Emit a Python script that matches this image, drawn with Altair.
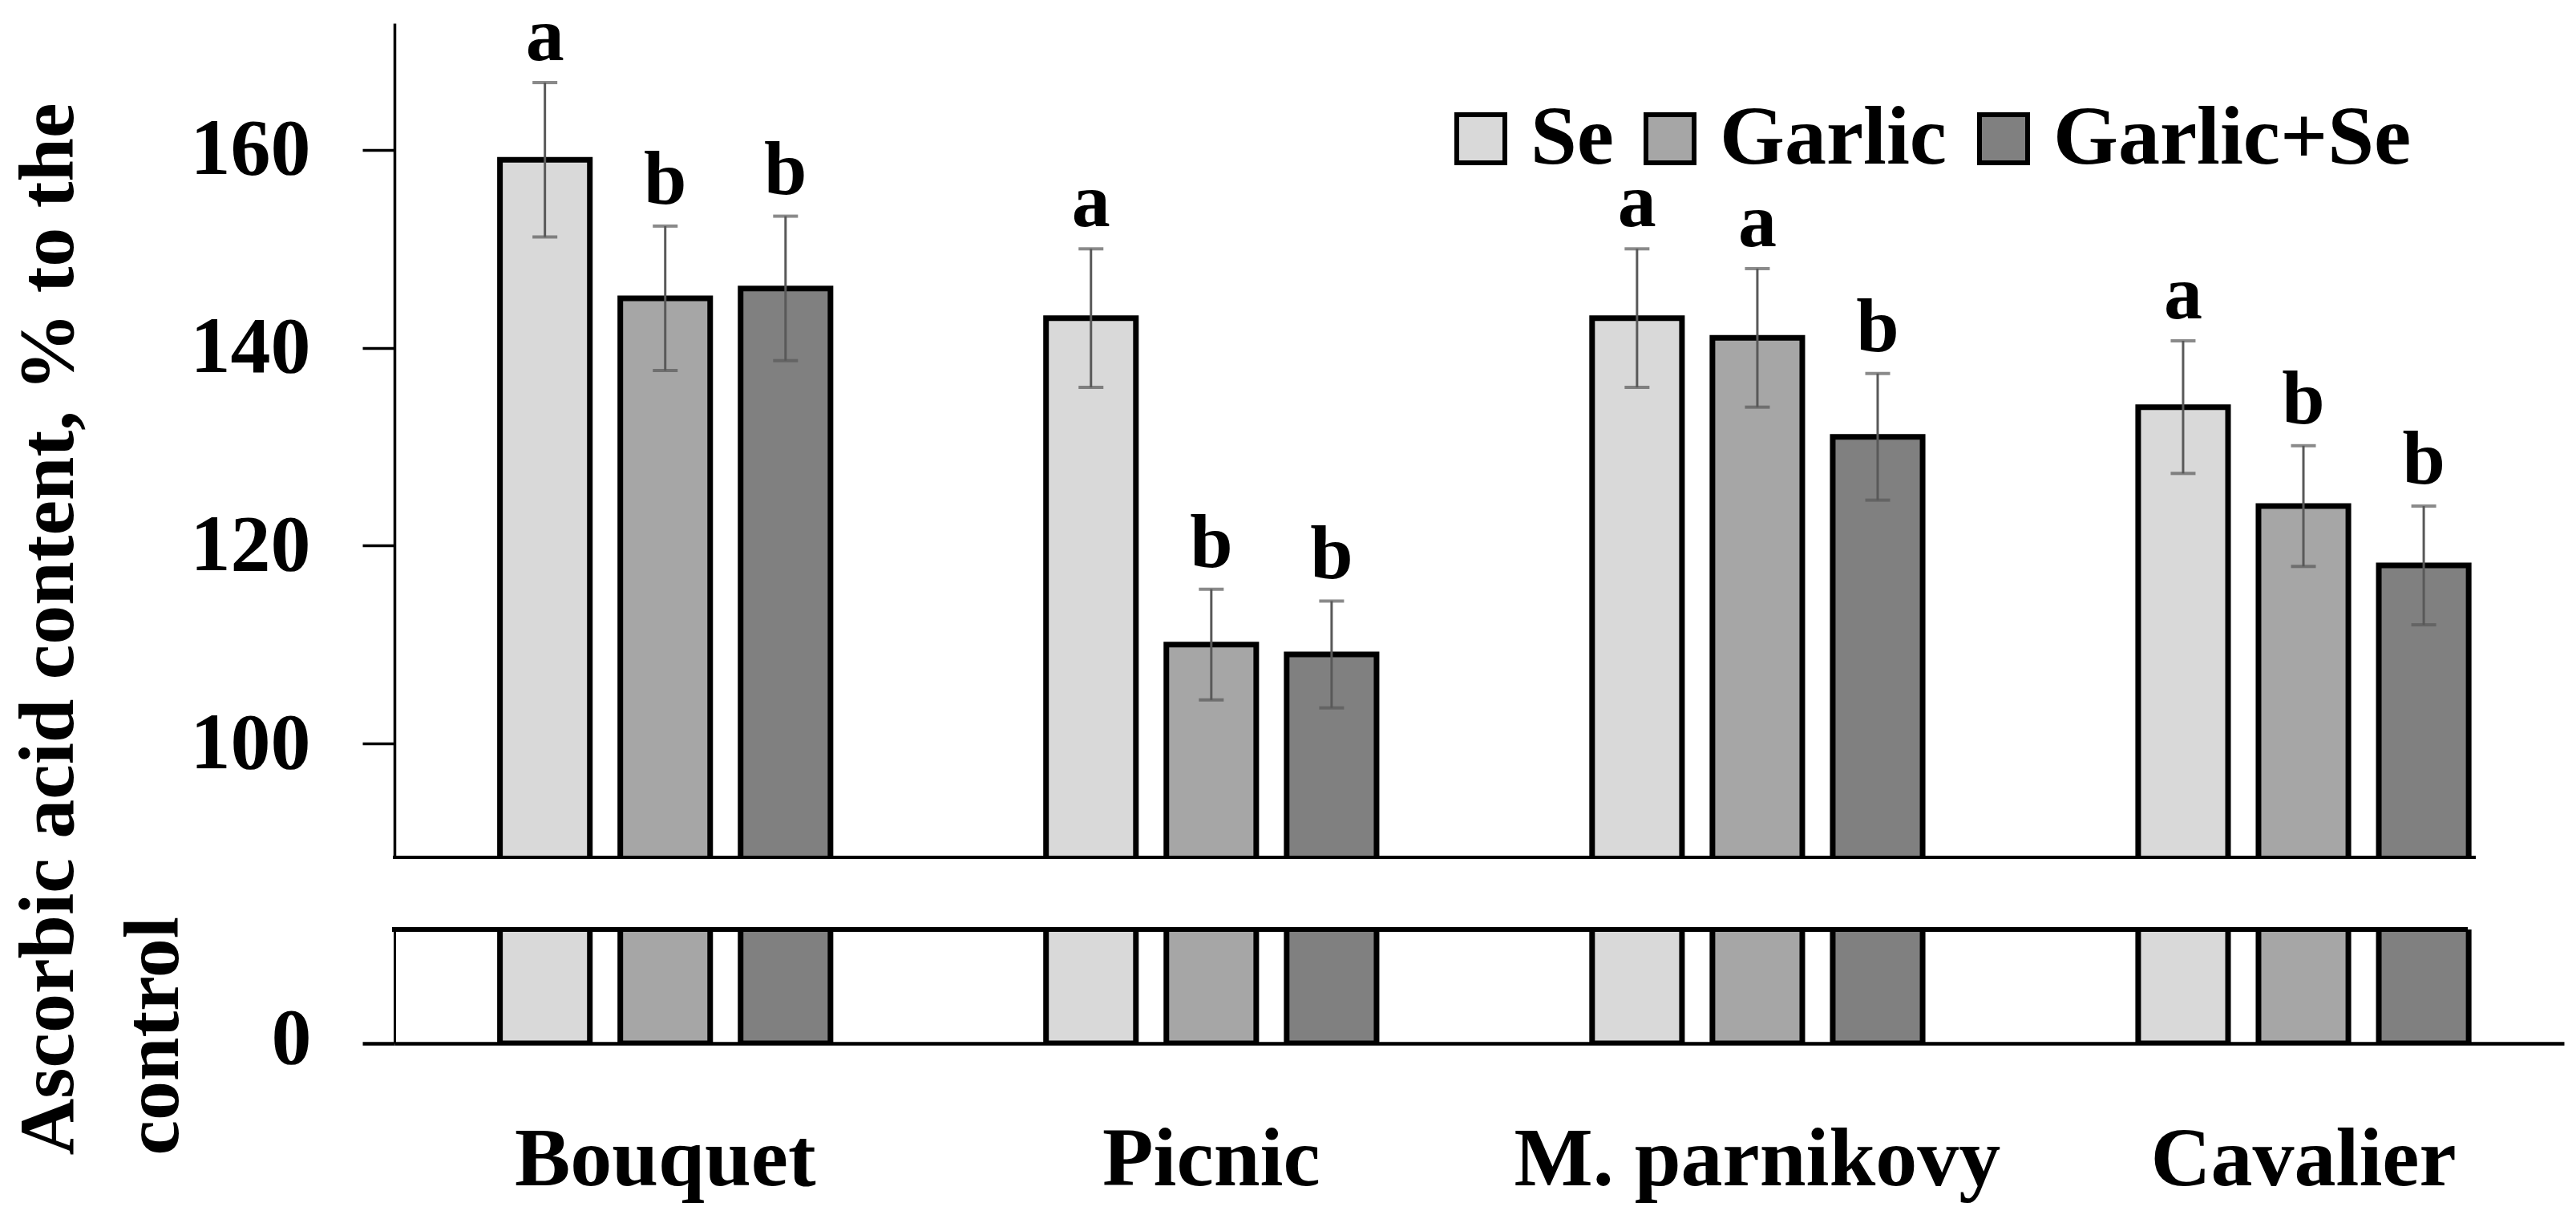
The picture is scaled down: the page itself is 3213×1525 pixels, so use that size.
import altair as alt
import pandas as pd

# ---------------- data ----------------
varieties = ["Bouquet", "Picnic", "M. parnikovy", "Cavalier"]
treatments = ["Se", "Garlic", "Garlic+Se"]

se_values = [159, 143, 143, 134]
garlic_values = [145, 110, 141, 124]
garlic_se_values = [146, 109, 131, 118]

se_errors = [7.8, 7.0, 7.0, 6.7]
garlic_errors = [7.3, 5.6, 7.0, 6.1]
garlic_se_errors = [7.3, 5.4, 6.4, 6.0]

se_letters = ["a", "a", "a", "a"]
garlic_letters = ["b", "b", "a", "b"]
garlic_se_letters = ["b", "b", "b", "b"]

upper_ticks = [100, 120, 140, 160]
lower_ticks = [0]
bar_colors = ["#d9d9d9", "#a6a6a6", "#808080"]

rows = []
for t, vals, errs, lets in zip(
    treatments,
    [se_values, garlic_values, garlic_se_values],
    [se_errors, garlic_errors, garlic_se_errors],
    [se_letters, garlic_letters, garlic_se_letters],
):
    for v, val, err, let in zip(varieties, vals, errs, lets):
        rows.append(dict(variety=v, treatment=t, value=val,
                         lo=val - err, hi=val + err, letter=let))
df = pd.DataFrame(rows)

# ---------------- layout ----------------
FONT = "Liberation Serif"
W = 2706
H_UP = 1040
H_LO = 142
BAR_STROKE = 7

x_scale = alt.Scale(domain=varieties, paddingInner=0.339, paddingOuter=0.156, align=0.53)
xoff = alt.XOffset("treatment:N", sort=treatments,
                   scale=alt.Scale(domain=treatments, paddingInner=0.253, paddingOuter=0.1265))

color_up = alt.Color(
    "treatment:N", sort=treatments,
    scale=alt.Scale(domain=treatments, range=bar_colors),
    legend=alt.Legend(
        title=None, orient="none", legendX=1303, legendY=92, direction="horizontal",
        labelFont=FONT, labelFontSize=104, labelFontWeight="bold", labelColor="black",
        labelLimit=0,
        symbolType="square", symbolSize=3600, symbolStrokeWidth=6,
        symbolStrokeColor="black", symbolOpacity=1, labelOffset=10,
        columnPadding=18, padding=0,
    ),
)
color_lo = alt.Color("treatment:N", sort=treatments,
                     scale=alt.Scale(domain=treatments, range=bar_colors), legend=None)

y_up_scale = alt.Scale(domain=[88.5, 172.8], nice=False, zero=False)

base_up = alt.Chart(df)
x_up = alt.X("variety:N", sort=varieties, scale=x_scale, axis=None)

bars_up = base_up.mark_bar(stroke="black", strokeWidth=BAR_STROKE, clip=True).encode(
    x=x_up, xOffset=xoff,
    y=alt.Y("value:Q", scale=y_up_scale, axis=alt.Axis(
        values=upper_ticks,
        title=["Ascorbic acid content, % to the", "control"],
        titleFont=FONT, titleFontSize=98, titleFontWeight="bold", titleColor="black",
        titleAngle=270, titleAlign="left", titleBaseline="top",
        titleX=-479, titleY=1411, titleLineHeight=131, titleLimit=0,
        labelFont=FONT, labelFontSize=100, labelFontWeight="bold", labelColor="black",
        labelPadding=65, tickSize=40, tickWidth=3.5, tickColor="black",
        domainColor="black", domainWidth=3.5, grid=False,
    )),
    color=color_up,
)
err_up = base_up.mark_rule(color="#595959", strokeWidth=3).encode(
    x=x_up, xOffset=xoff, y=alt.Y("lo:Q", scale=y_up_scale), y2="hi:Q")
cap_hi = base_up.mark_tick(color="#595959", size=31, thickness=4).encode(
    x=x_up, xOffset=xoff, y=alt.Y("hi:Q", scale=y_up_scale))
cap_lo = base_up.mark_tick(color="#595959", size=31, thickness=4).encode(
    x=x_up, xOffset=xoff, y=alt.Y("lo:Q", scale=y_up_scale))
letters_up = base_up.mark_text(
    font=FONT, fontSize=96, fontWeight="bold", color="black",
    baseline="alphabetic", align="center", dy=-28,
).encode(x=x_up, xOffset=xoff, y=alt.Y("hi:Q", scale=y_up_scale), text="letter:N")
baseline_up = alt.Chart(df).mark_rule(color="black", strokeWidth=4).encode(
    x=alt.value(-2), x2=alt.value(2596), y=alt.value(H_UP))

upper = alt.layer(bars_up, err_up, cap_hi, cap_lo, letters_up, baseline_up).properties(
    width=W, height=H_UP)

# lower (broken-axis) panel
base_lo = alt.Chart(df)
x_lo = alt.X("variety:N", sort=varieties, scale=x_scale, title=None, axis=alt.Axis(
    labelAngle=0, labelFont=FONT, labelFontSize=104, labelFontWeight="bold",
    labelColor="black", labelPadding=94, labelLimit=0, ticks=False, tickSize=0,
    domainColor="black", domainWidth=4.5, title=None,
))
bars_lo = base_lo.mark_bar(stroke="black", strokeWidth=BAR_STROKE, clip=True).encode(
    x=x_lo, xOffset=xoff,
    y=alt.Y("value:Q", scale=alt.Scale(domain=[0, 10], nice=False), axis=alt.Axis(
        values=lower_ticks, title=None,
        labelFont=FONT, labelFontSize=100, labelFontWeight="bold", labelColor="black",
        labelPadding=64, labelOffset=-6, tickSize=40, tickWidth=4.5, tickColor="black",
        domainColor="black", domainWidth=3, grid=False,
    )),
    color=color_lo,
)
top_lo = alt.Chart(df).mark_rule(color="black", strokeWidth=4.5).encode(
    x=alt.value(-3), x2=alt.value(2586), y=alt.value(0))

lower = alt.layer(bars_lo, top_lo).properties(width=W, height=H_LO)

chart = alt.vconcat(upper, lower, spacing=90, bounds="flush").resolve_scale(
    color="independent"
).properties(
    padding={"left": 3, "top": -10, "right": 5, "bottom": 5},
    background="white",
).configure_view(stroke=None)

chart.save("out.html", embed_options={"renderer": "svg", "actions": False})
